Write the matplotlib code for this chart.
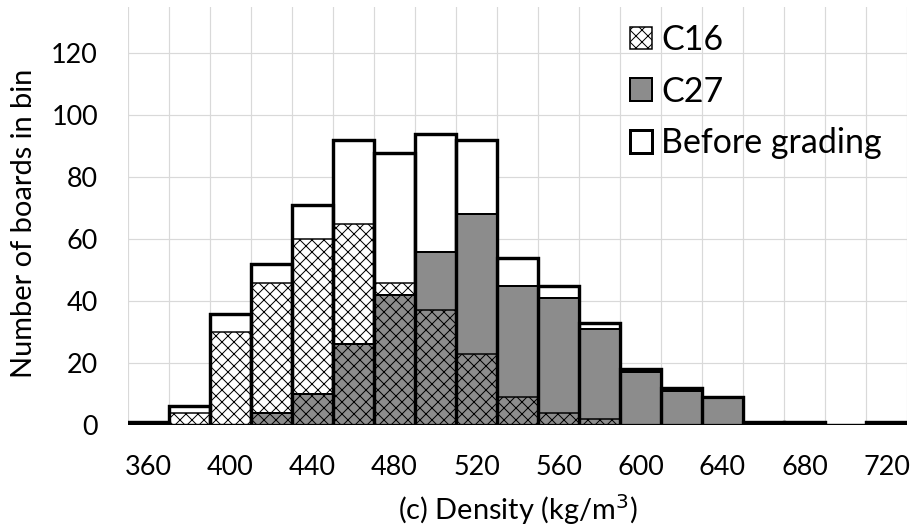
import matplotlib
matplotlib.use("Agg")
import matplotlib.pyplot as plt
from matplotlib.patches import Patch
import numpy as np

plt.rcParams['font.family'] = ['Lato', 'DejaVu Sans']
plt.rcParams['hatch.linewidth'] = 1.0

bins = [360, 380, 400, 420, 440, 460, 480, 500, 520, 540, 560, 580, 600, 620, 640, 660, 680, 700, 720]
before = [1, 6, 36, 52, 71, 92, 88, 94, 92, 54, 45, 33, 18, 12, 9, 1, 1, 0, 1]
c27 = [0, 0, 0, 4, 10, 26, 42, 56, 68, 45, 41, 31, 17, 11, 9, 0, 0, 0, 0]
c16 = [0, 4, 30, 46, 60, 65, 46, 37, 23, 9, 4, 2, 0, 0, 0, 0, 0, 0, 0]
tick_labels = [str(b) for b in bins[::2]]

# dpi 72 so that 1 pt == 1 px
W, H = 910, 531
fig = plt.figure(figsize=(W / 72, H / 72), dpi=72)
L, R, T, B = 128, 907, 7, 425
ax = fig.add_axes([L / W, 1 - B / H, (R - L) / W, (B - T) / H])

x = np.arange(len(bins))
ax.bar(x, before, width=1.0, color='white', edgecolor='black', linewidth=3.2, zorder=2)
ax.bar(x, c27, width=1.0, color='#8c8c8c', edgecolor='black', linewidth=2.0, zorder=3)
ax.bar(x, c16, width=1.0, color='none', edgecolor='black', linewidth=1.5, hatch='xx', zorder=4)
ax.bar(x, before, width=1.0, color='none', edgecolor='black', linewidth=3.2, zorder=5)

ax.set_xlim(-0.5, len(bins) - 0.5)
ax.set_ylim(0, 135)
ax.set_xticks(x[::2])
ax.set_xticklabels(tick_labels)
ax.set_yticks(np.arange(0, 121, 20))
ax.set_xticks(np.arange(-0.5, len(bins), 1), minor=True)
ax.grid(True, which='minor', axis='x', color='#d9d9d9', linewidth=1.2, zorder=0)
ax.grid(True, which='major', axis='y', color='#d9d9d9', linewidth=1.2, zorder=0)
ax.set_axisbelow(True)
ax.tick_params(axis='x', which='both', length=0, labelsize=27, pad=30)
ax.tick_params(axis='y', which='both', length=0, labelsize=27, pad=30)
for s in ax.spines.values():
    s.set_visible(False)

ax.set_ylabel('Number of boards in bin', fontsize=29)
ax.yaxis.set_label_coords((37 - L) / (R - L), (B - 223) / (B - T))
ax.set_xlabel('(c) Density (kg/m$^3$)', fontsize=29, labelpad=12)

handles = [Patch(facecolor='white', edgecolor='black', hatch='xx', linewidth=1.5, label='C16'),
           Patch(facecolor='#8c8c8c', edgecolor='black', linewidth=2.0, label='C27'),
           Patch(facecolor='white', edgecolor='black', linewidth=3.0, label='Before grading')]
ax.legend(handles=handles, loc='upper left', bbox_to_anchor=((630 - L) / (R - L), (B - 24) / (B - T)),
          frameon=False, fontsize=34, handlelength=0.65, handleheight=0.65, handletextpad=0.26,
          labelspacing=0.58, borderaxespad=0, borderpad=0)

fig.savefig('out.png', dpi=72)
